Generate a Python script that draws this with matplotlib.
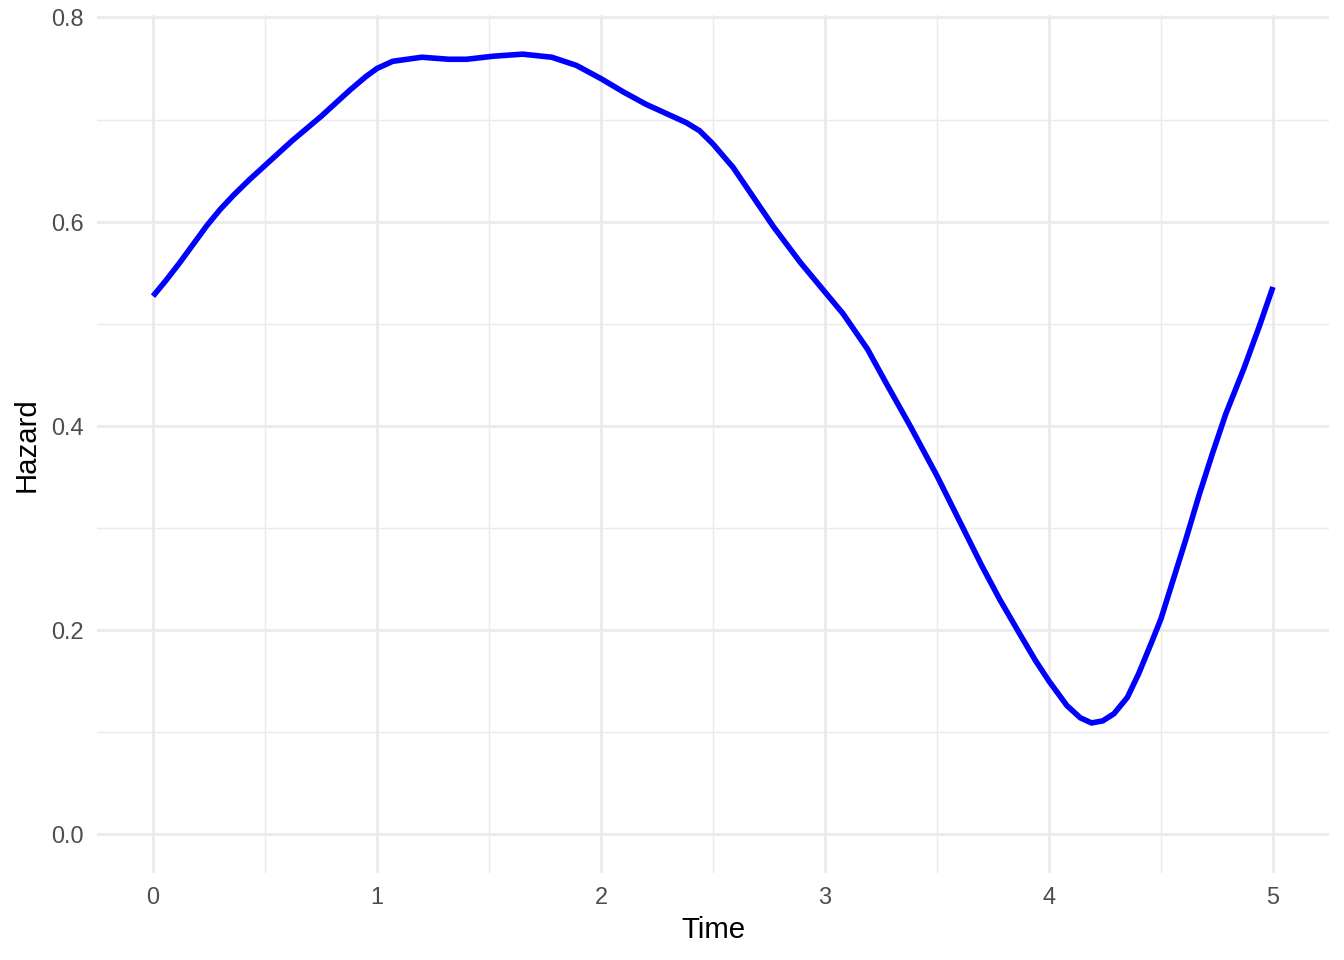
import matplotlib
matplotlib.use('Agg')
import matplotlib.pyplot as plt
from matplotlib.ticker import MultipleLocator

# Smoothed hazard estimate
time = [0.00, 0.06, 0.12, 0.18, 0.24, 0.30, 0.36, 0.43, 0.50, 0.62,
        0.75, 0.88, 0.95, 1.00, 1.07, 1.20, 1.32, 1.40, 1.52, 1.65,
        1.78, 1.89, 2.00, 2.10, 2.20, 2.30, 2.38, 2.44, 2.50, 2.59,
        2.68, 2.77, 2.89, 3.00, 3.08, 3.19, 3.27, 3.38, 3.50, 3.60,
        3.70, 3.78, 3.87, 3.94, 4.00, 4.08, 4.14, 4.19, 4.24, 4.29,
        4.35, 4.40, 4.46, 4.50, 4.55, 4.61, 4.67, 4.73, 4.79, 4.87,
        4.94, 5.00]
hazard = [0.527, 0.543, 0.560, 0.578, 0.596, 0.612, 0.626, 0.641, 0.655, 0.679,
          0.703, 0.729, 0.742, 0.750, 0.757, 0.761, 0.759, 0.759, 0.762, 0.764,
          0.761, 0.753, 0.740, 0.727, 0.715, 0.705, 0.697, 0.689, 0.676, 0.653,
          0.624, 0.595, 0.560, 0.531, 0.510, 0.475, 0.443, 0.400, 0.351, 0.307,
          0.263, 0.230, 0.196, 0.170, 0.150, 0.126, 0.114, 0.109, 0.111, 0.118,
          0.134, 0.157, 0.189, 0.211, 0.246, 0.288, 0.332, 0.373, 0.412, 0.456,
          0.498, 0.536]

GRID = '#EBEBEB'
TEXT = '#4D4D4D'

plt.rcParams['font.family'] = ['Liberation Sans', 'DejaVu Sans']

fig = plt.figure(figsize=(7, 5), dpi=192)
ax = fig.add_axes([0.0722, 0.0906, 0.9166, 0.8934])

ax.plot(time, hazard, color='blue', linewidth=2.1, solid_capstyle='butt',
        solid_joinstyle='round', zorder=3)

ax.set_xlim(-0.25, 5.25)
ax.set_ylim(-0.038, 0.802)

ax.xaxis.set_major_locator(MultipleLocator(1))
ax.xaxis.set_minor_locator(MultipleLocator(0.5))
ax.yaxis.set_major_locator(MultipleLocator(0.2))
ax.yaxis.set_minor_locator(MultipleLocator(0.1))
ax.yaxis.set_major_formatter(plt.FuncFormatter(lambda v, p: '%.1f' % v))

ax.grid(which='major', color=GRID, linewidth=1.07)
ax.grid(which='minor', color=GRID, linewidth=0.53)
ax.set_axisbelow(True)

for side in ['top', 'bottom', 'left', 'right']:
    ax.spines[side].set_visible(False)
ax.tick_params(which='both', length=0, labelsize=8.8, labelcolor=TEXT)
ax.tick_params(axis='x', pad=5)
ax.tick_params(axis='y', pad=5)

ax.set_xlabel('Time', fontsize=11, color='black', labelpad=2.5)
ax.set_ylabel('Hazard', fontsize=11, color='black', labelpad=4)

fig.savefig('out.png', dpi=192, facecolor='white')
